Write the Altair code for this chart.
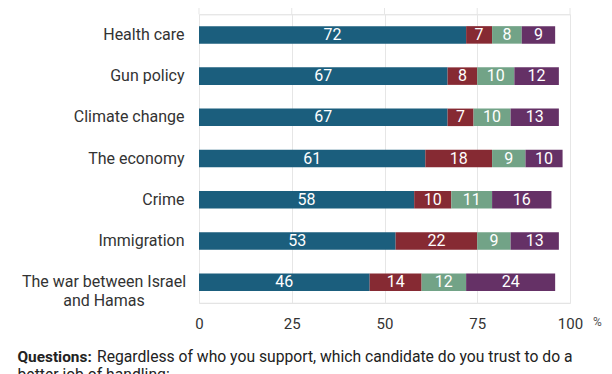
import altair as alt
import pandas as pd

categories = ["Health care", "Gun policy", "Climate change", "The economy",
              "Crime", "Immigration", "The war between Israel\nand Hamas"]
series = ["Harris", "Trump", "Both equally", "Neither"]
harris = [72, 67, 67, 61, 58, 53, 46]
trump = [7, 8, 7, 18, 10, 22, 14]
both = [8, 10, 10, 9, 11, 9, 12]
neither = [9, 12, 13, 10, 16, 13, 24]
colors = ["#1b5e7d", "#862a33", "#72a387", "#653166"]
tick_values = [0, 25, 50, 75, 100]
note_bold = "Questions:"
note_lines = ["Regardless of who you support, which candidate do you trust to do a"]
note_line2 = "better job of handling:"

rows = []
for i, c in enumerate(categories):
    for j, (s, vals) in enumerate(zip(series, [harris, trump, both, neither])):
        rows.append({"category": c, "series": s, "order": j, "value": vals[i]})
df = pd.DataFrame(rows)

W = 371
H = 288.5
FONT = "Roboto"
GRID = "#e6e6e6"

base = alt.Chart(df).transform_stack(
    stack="value", as_=["x0", "x1"], groupby=["category"],
    sort=[alt.SortField("order", order="ascending")]
).transform_calculate(xm="(datum.x0 + datum.x1) / 2")

multi_test = "indexof(datum.value, '\\n') >= 0"

yenc = alt.Y(
    "category:N", sort=categories,
    scale=alt.Scale(paddingInner=0.575, paddingOuter=0.2875),
    axis=alt.Axis(title=None, ticks=False, domain=False, grid=False,
                  labelFont=FONT, labelFontSize=16, labelColor="#333333",
                  labelAlign={"condition": {"test": multi_test, "value": "center"},
                              "value": "right"},
                  labelPadding={"condition": {"test": multi_test, "value": 95.5},
                                "value": 15},
                  labelLimit=250, labelLineHeight=19,
                  labelExpr="split(datum.label, '\\n')"),
)

xscale = alt.Scale(domain=[0, 100], nice=False, zero=True)

bars = base.mark_bar().encode(
    x=alt.X("x0:Q", scale=xscale,
            axis=alt.Axis(values=tick_values, grid=True, gridColor=GRID,
                          gridWidth=1, ticks=False, domain=False,
                          labelFont=FONT, labelFontSize=15, labelColor="#333333",
                          labelPadding=14, labelFlush=False,
                          title="%", titleFont=FONT, titleFontSize=12,
                          titleFontWeight="normal", titleColor="#555555",
                          titleX=W + 27, titleY=19, titleAlign="center",
                          titleBaseline="middle")),
    x2="x1:Q",
    y=yenc,
    color=alt.Color("series:N", scale=alt.Scale(domain=series, range=colors),
                    legend=None),
)

# grid lines continuing above the first visible row (cropped top of the figure)
grid_ext = alt.Chart(pd.DataFrame({"t": tick_values})).mark_rule(
    color=GRID, strokeWidth=1).encode(
    x=alt.X("t:Q", scale=xscale), y=alt.value(-6.3), y2=alt.value(0))

labels = base.mark_text(color="white", font=FONT, fontSize=16,
                        baseline="middle", align="center").encode(
    x=alt.X("xm:Q", scale=xscale),
    y=alt.Y("category:N", sort=categories),
    text="value:Q",
)

note1 = alt.Chart(pd.DataFrame({"t": [note_bold]})).mark_text(
    font=FONT, fontSize=15.4, fontWeight="bold", color="#222222",
    align="left", baseline="alphabetic").encode(
    text="t:N", x=alt.value(-181.5), y=alt.value(H + 59))

note2 = alt.Chart(pd.DataFrame({"t": note_lines})).mark_text(
    font=FONT, fontSize=15.7, color="#222222",
    align="left", baseline="alphabetic").encode(
    text="t:N", x=alt.value(-102), y=alt.value(H + 59))

note3 = alt.Chart(pd.DataFrame({"t": [note_line2]})).mark_text(
    font=FONT, fontSize=15.7, color="#222222",
    align="left", baseline="alphabetic").encode(
    text="t:N", x=alt.value(-181.5), y=alt.value(H + 77))

chart = alt.layer(grid_ext, bars, labels, note1, note2, note3).properties(
    width=W, height=H,
    autosize=alt.AutoSizeParams(type="none"),
    padding={"left": 191, "top": 6.3, "right": 33, "bottom": 72},
).configure_view(stroke=None).configure(background="white")

chart.save("out.html", embed_options={"renderer": "svg", "actions": False})
